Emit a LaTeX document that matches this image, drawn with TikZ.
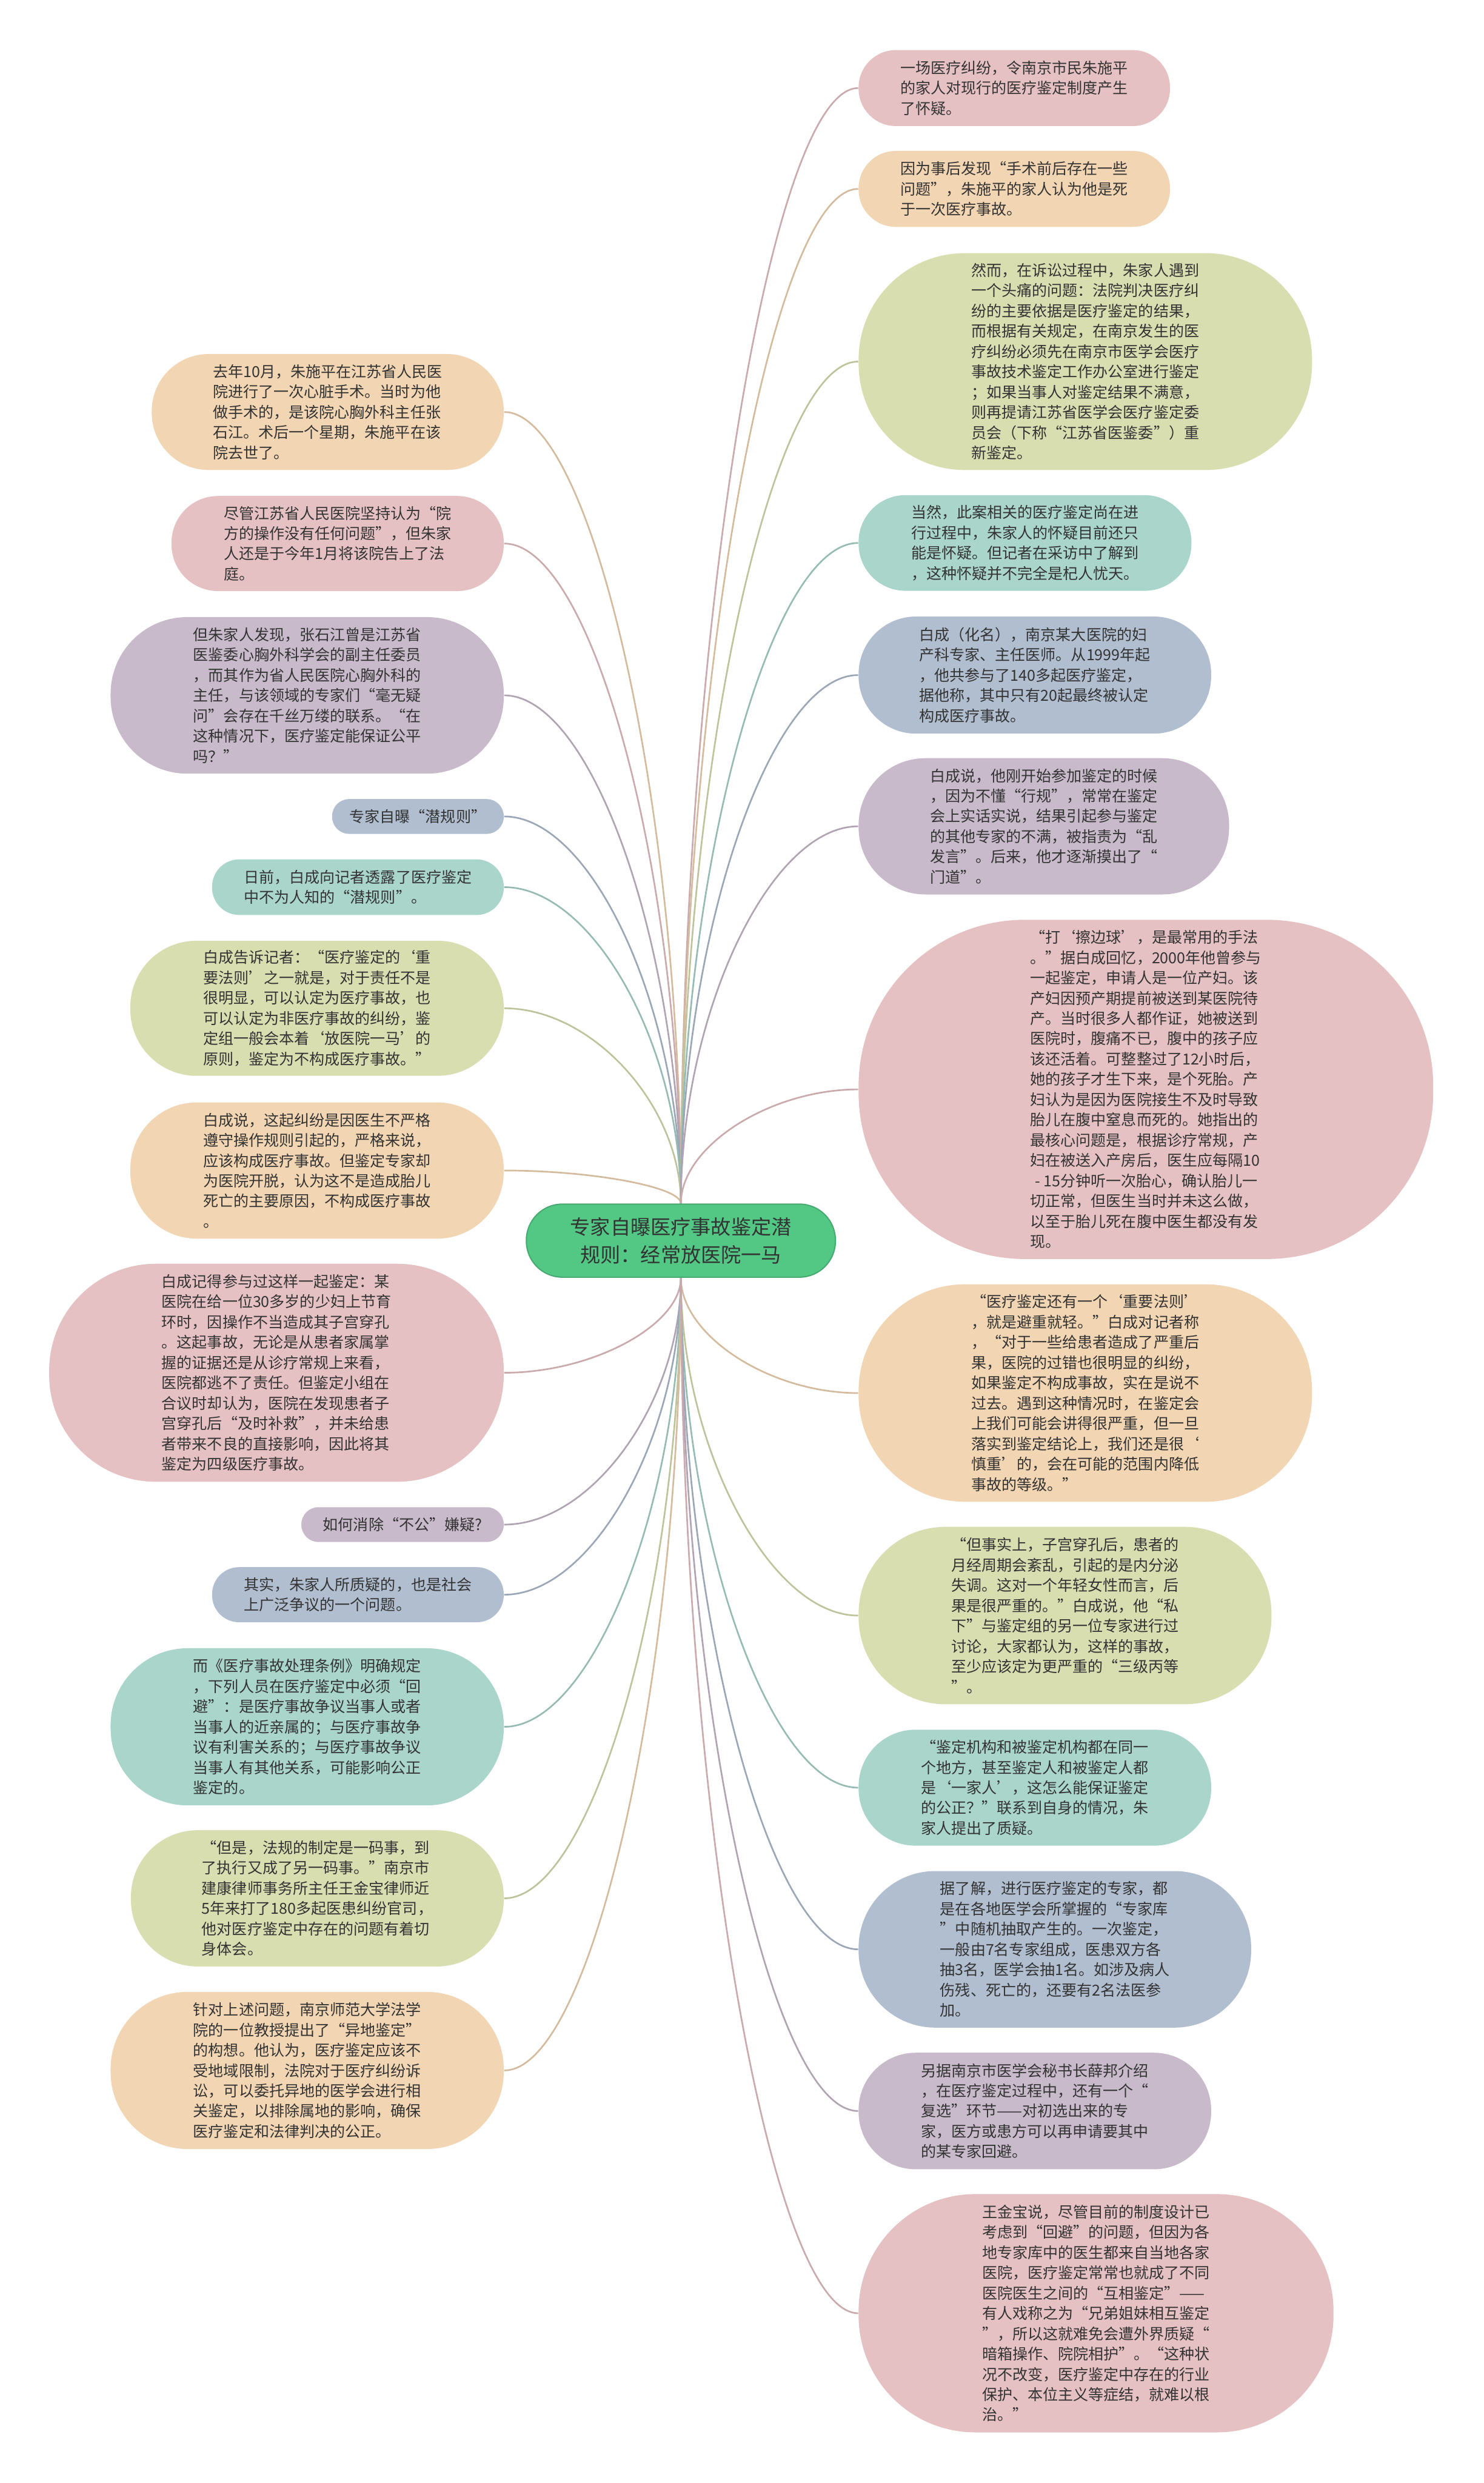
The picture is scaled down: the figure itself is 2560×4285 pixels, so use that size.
\documentclass[tikz,border=0pt]{standalone}
\usepackage{fontspec}
\newfontfamily\cjk{Noto Sans CJK SC}
\usetikzlibrary{calc, backgrounds}
\definecolor{cRoot}{HTML}{52C884}
\definecolor{cPeach}{HTML}{F2D5B2}
\definecolor{cPink}{HTML}{E6C1C3}
\definecolor{cMauve}{HTML}{C8BACB}
\definecolor{cSlate}{HTML}{B0BED0}
\definecolor{cTeal}{HTML}{A9D5CB}
\definecolor{cOlive}{HTML}{D9DEB1}
\definecolor{cText}{HTML}{333333}
\tikzset{
  leaf/.style 2 args={rounded corners=0.49*#2, minimum width=#1, minimum height=#2,
    inner sep=0pt, align=left, text=cText,
    font=\cjk\fontsize{7.45pt}{9.96pt}\selectfont},
  root/.style={rounded corners=0.62cm, minimum width=5.33cm, minimum height=1.26cm,
    fill=cRoot, draw=cRoot!85!black, line width=0.6pt, align=center, text=black!80,
    font=\cjk\fontsize{9.87pt}{13.6pt}\selectfont},
  link/.style={line width=0.8pt, draw=#1!88!black},
}

\begin{document}
\begin{tikzpicture}[x=0.01cm, y=-0.01cm]
  \useasboundingbox (0,0) rectangle (2560,4285);

  % ----------------------------------------------------------------
  % Root
  % ----------------------------------------------------------------
  \node[root] (root) at (1175,2141) {专家自曝医疗事故鉴定潜\\规则：经常放医院一马};

  % ----------------------------------------------------------------
  % Left branch
  % ----------------------------------------------------------------
  \node[leaf={6.07cm}{2.00cm}, fill=cPeach, anchor=east] (l1) at (870,711)
    {去年10月，朱施平在江苏省人民医\\院进行了一次心脏手术。当时为他\\做手术的，是该院心胸外科主任张\\石江。术后一个星期，朱施平在该\\院去世了。};
  \node[leaf={5.73cm}{1.64cm}, fill=cPink, anchor=east] (l2) at (870,938)
    {尽管江苏省人民医院坚持认为“院\\方的操作没有任何问题”，但朱家\\人还是于今年1月将该院告上了法\\庭。};
  \node[leaf={6.78cm}{2.70cm}, fill=cMauve, anchor=east] (l3) at (870,1200)
    {但朱家人发现，张石江曾是江苏省\\医鉴委心胸外科学会的副主任委员\\，而其作为省人民医院心胸外科的\\主任，与该领域的专家们“毫无疑\\问”会存在千丝万缕的联系。“在\\这种情况下，医疗鉴定能保证公平\\吗？”};
  \node[leaf={2.96cm}{0.60cm}, fill=cSlate, anchor=east] (l4) at (870,1409)
    {专家自曝“潜规则”};
  \node[leaf={5.03cm}{0.96cm}, fill=cTeal, anchor=east] (l5) at (870,1531)
    {日前，白成向记者透露了医疗鉴定\\中不为人知的“潜规则”。};
  \node[leaf={6.44cm}{2.33cm}, fill=cOlive, anchor=east] (l6) at (870,1740)
    {白成告诉记者：“医疗鉴定的‘重\\要法则’之一就是，对于责任不是\\很明显，可以认定为医疗事故，也\\可以认定为非医疗事故的纠纷，鉴\\定组一般会本着‘放医院一马’的\\原则，鉴定为不构成医疗事故。”};
  \node[leaf={6.44cm}{2.35cm}, fill=cPeach, anchor=east] (l7) at (870,2020)
    {白成说，这起纠纷是因医生不严格\\遵守操作规则引起的，严格来说，\\应该构成医疗事故。但鉴定专家却\\为医院开脱，认为这不是造成胎儿\\死亡的主要原因，不构成医疗事故\\。};
  \node[leaf={7.84cm}{3.76cm}, fill=cPink, anchor=east] (l8) at (870,2369)
    {白成记得参与过这样一起鉴定：某\\医院在给一位30多岁的少妇上节育\\环时，因操作不当造成其子宫穿孔\\。这起事故，无论是从患者家属掌\\握的证据还是从诊疗常规上来看，\\医院都逃不了责任。但鉴定小组在\\合议时却认为，医院在发现患者子\\宫穿孔后“及时补救”，并未给患\\者带来不良的直接影响，因此将其\\鉴定为四级医疗事故。};
  \node[leaf={3.49cm}{0.60cm}, fill=cMauve, anchor=east] (l9) at (870,2631)
    {如何消除“不公”嫌疑?};
  \node[leaf={5.03cm}{0.95cm}, fill=cSlate, anchor=east] (l10) at (870,2752)
    {其实，朱家人所质疑的，也是社会\\上广泛争议的一个问题。};
  \node[leaf={6.78cm}{2.71cm}, fill=cTeal, anchor=east] (l11) at (870,2980)
    {而《医疗事故处理条例》明确规定\\，下列人员在医疗鉴定中必须“回\\避”：是医疗事故争议当事人或者\\当事人的近亲属的；与医疗事故争\\议有利害关系的；与医疗事故争议\\当事人有其他关系，可能影响公正\\鉴定的。};
  \node[leaf={6.43cm}{2.35cm}, fill=cOlive, anchor=east] (l12) at (870,3276)
    {“但是，法规的制定是一码事，到\\了执行又成了另一码事。”南京市\\建康律师事务所主任王金宝律师近\\5年来打了180多起医患纠纷官司，\\他对医疗鉴定中存在的问题有着切\\身体会。};
  \node[leaf={6.78cm}{2.71cm}, fill=cPeach, anchor=east] (l13) at (870,3573)
    {针对上述问题，南京师范大学法学\\院的一位教授提出了“异地鉴定”\\的构想。他认为，医疗鉴定应该不\\受地域限制，法院对于医疗纠纷诉\\讼，可以委托异地的医学会进行相\\关鉴定，以排除属地的影响，确保\\医疗鉴定和法律判决的公正。};

  % ----------------------------------------------------------------
  % Right branch
  % ----------------------------------------------------------------
  \node[leaf={5.37cm}{1.31cm}, fill=cPink, anchor=west] (r1) at (1481,152)
    {一场医疗纠纷，令南京市民朱施平\\的家人对现行的医疗鉴定制度产生\\了怀疑。};
  \node[leaf={5.37cm}{1.31cm}, fill=cPeach, anchor=west] (r2) at (1481,326)
    {因为事后发现“手术前后存在一些\\问题”，朱施平的家人认为他是死\\于一次医疗事故。};
  \node[leaf={7.82cm}{3.74cm}, fill=cOlive, anchor=west] (r3) at (1481,624)
    {然而，在诉讼过程中，朱家人遇到\\一个头痛的问题：法院判决医疗纠\\纷的主要依据是医疗鉴定的结果，\\而根据有关规定，在南京发生的医\\疗纠纷必须先在南京市医学会医疗\\事故技术鉴定工作办公室进行鉴定\\；如果当事人对鉴定结果不满意，\\则再提请江苏省医学会医疗鉴定委\\员会（下称“江苏省医鉴委”）重\\新鉴定。};
  \node[leaf={5.74cm}{1.65cm}, fill=cTeal, anchor=west] (r4) at (1481,937)
    {当然，此案相关的医疗鉴定尚在进\\行过程中，朱家人的怀疑目前还只\\能是怀疑。但记者在采访中了解到\\，这种怀疑并不完全是杞人忧天。};
  \node[leaf={6.08cm}{2.02cm}, fill=cSlate, anchor=west] (r5) at (1481,1165)
    {白成（化名），南京某大医院的妇\\产科专家、主任医师。从1999年起\\，他共参与了140多起医疗鉴定，\\据他称，其中只有20起最终被认定\\构成医疗事故。};
  \node[leaf={6.39cm}{2.35cm}, fill=cMauve, anchor=west] (r6) at (1481,1426)
    {白成说，他刚开始参加鉴定的时候\\，因为不懂“行规”，常常在鉴定\\会上实话实说，结果引起参与鉴定\\的其他专家的不满，被指责为“乱\\发言”。后来，他才逐渐摸出了“\\门道”。};
  \node[leaf={9.91cm}{5.85cm}, fill=cPink, anchor=west] (r7) at (1481,1880)
    {“打‘擦边球’，是最常用的手法\\。”据白成回忆，2000年他曾参与\\一起鉴定，申请人是一位产妇。该\\产妇因预产期提前被送到某医院待\\产。当时很多人都作证，她被送到\\医院时，腹痛不已，腹中的孩子应\\该还活着。可整整过了12小时后，\\她的孩子才生下来，是个死胎。产\\妇认为是因为医院接生不及时导致\\胎儿在腹中窒息而死的。她指出的\\最核心问题是，根据诊疗常规，产\\妇在被送入产房后，医生应每隔10\\\hspace{0.3em}- 15分钟听一次胎心，确认胎儿一\\切正常，但医生当时并未这么做，\\以至于胎儿死在腹中医生都没有发\\现。};
  \node[leaf={7.82cm}{3.75cm}, fill=cPeach, anchor=west] (r8) at (1481,2404)
    {“医疗鉴定还有一个‘重要法则’\\，就是避重就轻。”白成对记者称\\，“对于一些给患者造成了严重后\\果，医院的过错也很明显的纠纷，\\如果鉴定不构成事故，实在是说不\\过去。遇到这种情况时，在鉴定会\\上我们可能会讲得很严重，但一旦\\落实到鉴定结论上，我们还是很‘\\慎重’的，会在可能的范围内降低\\事故的等级。”};
  \node[leaf={7.12cm}{3.06cm}, fill=cOlive, anchor=west] (r9) at (1481,2788)
    {“但事实上，子宫穿孔后，患者的\\月经周期会紊乱，引起的是内分泌\\失调。这对一个年轻女性而言，后\\果是很严重的。”白成说，他“私\\下”与鉴定组的另一位专家进行过\\讨论，大家都认为，这样的事故，\\至少应该定为更严重的“三级丙等\\”。};
  \node[leaf={6.08cm}{2.00cm}, fill=cTeal, anchor=west] (r10) at (1481,3085)
    {“鉴定机构和被鉴定机构都在同一\\个地方，甚至鉴定人和被鉴定人都\\是‘一家人’，这怎么能保证鉴定\\的公正？”联系到自身的情况，朱\\家人提出了质疑。};
  \node[leaf={6.77cm}{2.70cm}, fill=cSlate, anchor=west] (r11) at (1481,3364)
    {据了解，进行医疗鉴定的专家，都\\是在各地医学会所掌握的“专家库\\”中随机抽取产生的。一次鉴定，\\一般由7名专家组成，医患双方各\\抽3名，医学会抽1名。如涉及病人\\伤残、死亡的，还要有2名法医参\\加。};
  \node[leaf={6.08cm}{2.01cm}, fill=cMauve, anchor=west] (r12) at (1481,3643)
    {另据南京市医学会秘书长薛邦介绍\\，在医疗鉴定过程中，还有一个“\\复选”环节——对初选出来的专\\家，医方或患方可以再申请要其中\\的某专家回避。};
  \node[leaf={8.19cm}{4.11cm}, fill=cPink, anchor=west] (r13) at (1481,3992)
    {王金宝说，尽管目前的制度设计已\\考虑到“回避”的问题，但因为各\\地专家库中的医生都来自当地各家\\医院，医疗鉴定常常也就成了不同\\医院医生之间的“互相鉴定”——\\有人戏称之为“兄弟姐妹相互鉴定\\”，所以这就难免会遭外界质疑“\\暗箱操作、院院相护”。“这种状\\况不改变，医疗鉴定中存在的行业\\保护、本位主义等症结，就难以根\\治。”};

  % ----------------------------------------------------------------
  % Connectors (behind the nodes)
  % ----------------------------------------------------------------
  \begin{scope}[on background layer]
    \fill[white] (0,0) rectangle (2560,4285);
    \foreach \n/\c in {l1/cPeach, l2/cPink, l3/cMauve, l4/cSlate, l5/cTeal, l6/cOlive, l7/cPeach}
      \draw[link=\c] (root.north) .. controls ($(root.north)!.5!(root.north|-\n.east)$)
        and ($(\n.east)!.5!(root.north|-\n.east)$) .. (\n.east);
    \foreach \n/\c in {l8/cPink, l9/cMauve, l10/cSlate, l11/cTeal, l12/cOlive, l13/cPeach}
      \draw[link=\c] (root.south) .. controls ($(root.south)!.5!(root.south|-\n.east)$)
        and ($(\n.east)!.5!(root.south|-\n.east)$) .. (\n.east);
    \foreach \n/\c in {r1/cPink, r2/cPeach, r3/cOlive, r4/cTeal, r5/cSlate, r6/cMauve, r7/cPink}
      \draw[link=\c] (root.north) .. controls ($(root.north)!.5!(root.north|-\n.west)$)
        and ($(\n.west)!.5!(root.north|-\n.west)$) .. (\n.west);
    \foreach \n/\c in {r8/cPeach, r9/cOlive, r10/cTeal, r11/cSlate, r12/cMauve, r13/cPink}
      \draw[link=\c] (root.south) .. controls ($(root.south)!.5!(root.south|-\n.west)$)
        and ($(\n.west)!.5!(root.south|-\n.west)$) .. (\n.west);
  \end{scope}

\end{tikzpicture}
\end{document}
